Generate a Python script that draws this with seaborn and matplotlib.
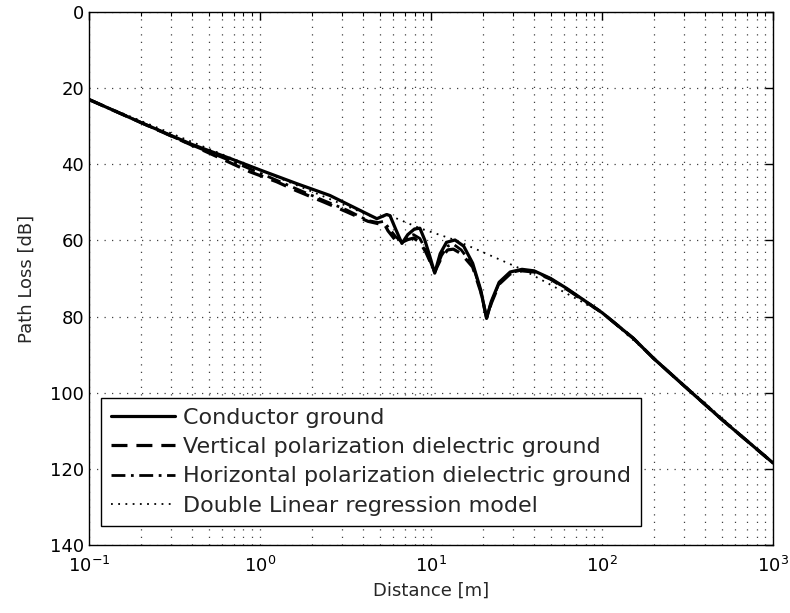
import numpy as np
import pandas as pd
import matplotlib
matplotlib.use("Agg")
import matplotlib.pyplot as plt
import seaborn as sns

# ---------------- data ----------------
cond_x = [0.1, 0.2, 0.4, 0.67, 1.0, 1.64, 2.56, 3.68, 4.82, 5.5, 5.75, 6.2, 6.75, 7.3, 8.0, 8.6,
          9.2, 9.8, 10.5, 11.3, 12.3, 13.8, 15.5, 17.5, 19.5, 21.1, 22.5, 25, 29, 34, 40, 50,
          62, 80, 100, 152, 200, 298, 500, 1000]
cond_y = [23.0, 29.0, 34.8, 38.5, 41.5, 45.1, 48.2, 51.7, 54.3, 53.2, 53.5, 57.0, 60.8, 58.5, 57.0, 56.8,
          60.0, 64.0, 68.6, 63.5, 60.5, 59.9, 61.5, 66.0, 73.0, 80.5, 76.0, 71.0, 68.3, 67.6, 68.0, 70.0,
          72.6, 76.0, 79.0, 85.7, 91.0, 98.0, 107.0, 118.5]

vert_x = [0.1, 0.2, 0.4, 0.874, 1.25, 1.64, 2.35, 3.21, 4.28, 4.9, 5.3, 5.6, 6.2, 6.75, 7.3, 7.9,
          8.6, 9.3, 10.5, 11.5, 12.5, 13.5, 15, 17.5, 19.5, 21.1, 22.5, 25, 29, 34, 40, 50,
          62, 80, 100, 152, 200, 298, 500, 1000]
vert_y = [23.0, 29.0, 35.0, 42.0, 44.6, 47.0, 49.9, 52.5, 55.0, 55.6, 55.5, 57.5, 60.0, 60.5, 59.8, 59.4,
          60.5, 63.0, 68.3, 64.5, 62.5, 62.3, 63.5, 67.0, 73.5, 80.3, 76.5, 71.5, 68.8, 68.0, 68.3, 70.2,
          72.8, 76.1, 79.0, 85.7, 91.0, 98.0, 107.0, 118.5]

horz_x = [0.1, 0.2, 0.4, 0.8, 1.25, 1.64, 2.35, 3.21, 4.28, 4.9, 5.3, 5.6, 6.2, 6.75, 7.3, 7.9,
          8.6, 9.3, 10.5, 11.5, 12.5, 13.5, 15, 17.5, 19.5, 21.1, 22.5, 25, 29, 34, 40, 50,
          62, 80, 100, 152, 200, 298, 500, 1000]
horz_y = [23.0, 29.0, 35.0, 40.5, 44.2, 46.5, 49.5, 52.0, 54.8, 55.3, 55.0, 56.5, 59.0, 60.5, 59.0, 58.5,
          59.5, 62.5, 68.5, 64.0, 61.5, 61.0, 62.5, 66.5, 73.2, 80.4, 76.2, 71.2, 68.5, 67.8, 68.1, 70.1,
          72.7, 76.0, 79.0, 85.7, 91.0, 98.0, 107.0, 118.5]

reg_x = [0.1, 1.0, 4.82, 5.6, 8.6, 13.8, 34, 100, 1000]
reg_y = [23.0, 41.5, 54.3, 53.3, 56.8, 59.9, 67.6, 79.0, 118.5]

labels = ["Conductor ground",
          "Vertical polarization dielectric ground",
          "Horizontal polarization dielectric ground",
          "Double Linear regression model"]

y_ticks = [0, 20, 40, 60, 80, 100, 120, 140]

# ---------------- figure ----------------
sns.set_style("white")
plt.rcParams["font.family"] = ["DejaVu Sans"]
plt.rcParams["mathtext.fontset"] = "dejavusans"

fig = plt.figure(figsize=(7.9, 6.13), dpi=100)
ax = fig.add_axes([0.1127, 0.111, 0.866, 0.8695])
ax.set_xscale("log")

styles = [
    dict(linestyle="-", linewidth=2.3),
    dict(linestyle=(0, (5, 2.8)), linewidth=2.3),
    dict(linestyle=(0, (5, 2, 1, 2)), linewidth=2.0),
    dict(linestyle=(0, (1, 3)), linewidth=1.3),
]
series = [(cond_x, cond_y), (vert_x, vert_y), (horz_x, horz_y), (reg_x, reg_y)]
order = [3, 2, 1, 0]
handles = {}
for i in order:
    xs, ys = series[i]
    df = pd.DataFrame({"x": xs, "y": ys})
    sns.lineplot(data=df, x="x", y="y", ax=ax, color="black", label=labels[i],
                 sort=False, estimator=None, **styles[i])

ax.set_xlim(0.1, 1000)
ax.set_ylim(140, 0)
ax.set_yticks(y_ticks)
ax.set_xlabel("Distance [m]", fontsize=13, labelpad=4)
ax.set_ylabel("Path Loss [dB]", fontsize=13, labelpad=10)

ax.grid(which="major", axis="both", color="0.25", linestyle=(0, (1, 5)), linewidth=0.9)
ax.grid(which="minor", axis="x", color="0.25", linestyle=(0, (1, 5)), linewidth=0.9)
ax.tick_params(which="both", direction="in", top=True, right=True, colors="black",
               labelsize=13)
ax.tick_params(which="major", length=6, width=1)
ax.tick_params(which="minor", length=3, width=0.8)
ax.tick_params(axis="x", which="major", pad=8)
for s in ax.spines.values():
    s.set_color("black")
    s.set_linewidth(1.0)

h, l = ax.get_legend_handles_labels()
lab2h = dict(zip(l, h))
leg = ax.legend([lab2h[t] for t in labels], labels,
                loc="lower left", bbox_to_anchor=(0.0175, 0.036), fontsize=16,
                handlelength=2.9, handletextpad=0.35, labelspacing=0.42,
                borderpad=0.45, borderaxespad=0, frameon=True, fancybox=False,
                edgecolor="black", framealpha=1)
leg.get_frame().set_linewidth(1.0)

fig.savefig("out.png", dpi=100)
